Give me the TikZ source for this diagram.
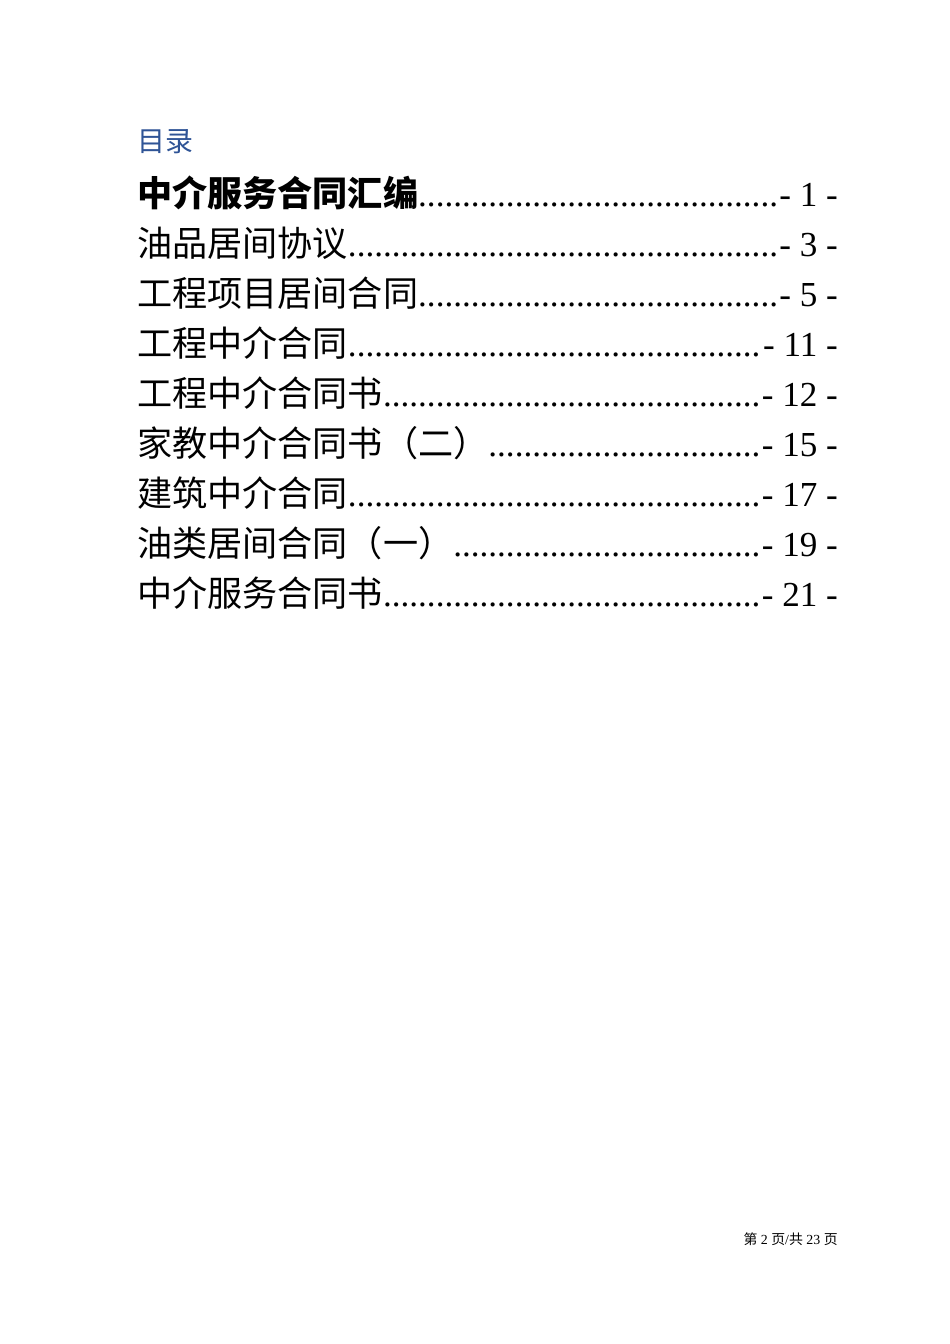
\documentclass[tikz,border=0pt]{standalone}
\usepackage{fontspec}
\setmainfont{Liberation Serif}
\newfontfamily\cjk{Noto Sans CJK SC}
\usetikzlibrary{positioning}
\definecolor{tocblue}{HTML}{2F5496}
\newcommand{\dotline}[2]{\makebox[439pt][l]{#1\leaders\hbox{.}\hfill #2}}
\tikzset{toc entry/.style={anchor=base west,inner sep=0pt,font=\fontsize{22pt}{26pt}\selectfont}}

\begin{document}
\begin{tikzpicture}[x=0.6266pt,y=-0.6266pt]
        \useasboundingbox (0,0) rectangle (950,1344);

        \node [anchor=base west,inner sep=0pt,text=tocblue,font=\cjk\fontsize{17.5pt}{20pt}\selectfont] (title) at (137,151) {目录};

        \node [toc entry] (entry0) at (137,206) {\dotline{{\cjk\bfseries 中介服务合同汇编}}{- 1 -}};
        \foreach \t/\p [count=\i] in {油品居间协议/3, 工程项目居间合同/5, 工程中介合同/11, 工程中介合同书/12, 家教中介合同书（二）/15, 建筑中介合同/17, 油类居间合同（一）/19, 中介服务合同书/21}{
		 \node [toc entry] (entry\i) at (137,206+50*\i) {\dotline{{\cjk \t}}{- \p\ -}};
      	}

        \node [anchor=base east,inner sep=0pt,font=\fontsize{8.7pt}{11pt}\selectfont] (footer) at (838,1244) {{\cjk 第} 2 {\cjk 页}/{\cjk 共} 23 {\cjk 页}};
\end{tikzpicture}
\end{document}
